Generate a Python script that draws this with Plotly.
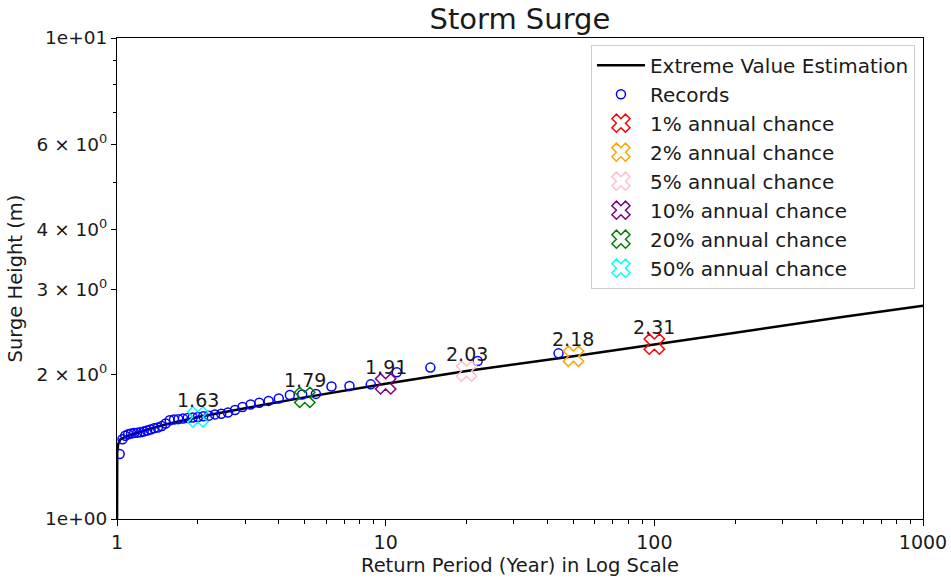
import math
import plotly.graph_objects as go

# Extreme value estimation curve (return period in years, surge height in m)
curve_period = [1.0, 1.002, 1.01, 1.03, 1.1, 1.2, 1.5, 2, 3, 5, 10, 20, 50, 100, 200, 500, 1000]
curve_height = [0.9, 1.38, 1.43, 1.465, 1.49, 1.515, 1.57, 1.63, 1.70, 1.79, 1.91, 2.03, 2.18, 2.31, 2.44, 2.63, 2.777]

# Observed annual maxima with their plotting-position return periods
record_period = [44.0, 22.0, 14.67, 11.0, 8.8, 7.333, 6.286, 5.5, 4.889, 4.4,
                 4.0, 3.667, 3.385, 3.143, 2.933, 2.75, 2.588, 2.444, 2.316, 2.2,
                 2.095, 2.0, 1.913, 1.833, 1.76, 1.692, 1.63, 1.571, 1.517, 1.467,
                 1.419, 1.375, 1.333, 1.294, 1.257, 1.222, 1.189, 1.158, 1.128, 1.1,
                 1.073, 1.048, 1.023]
record_height = [2.21, 2.13, 2.064, 2.018, 1.905, 1.89, 1.885, 1.82, 1.815, 1.81,
                 1.78, 1.76, 1.745, 1.73, 1.71, 1.685, 1.665, 1.655, 1.65, 1.64,
                 1.635, 1.63, 1.625, 1.622, 1.617, 1.613, 1.61, 1.605, 1.58, 1.56,
                 1.55, 1.545, 1.535, 1.527, 1.52, 1.515, 1.512, 1.51, 1.505, 1.50,
                 1.49, 1.465, 1.365]

# Design return levels
chance_labels = ["1% annual chance", "2% annual chance", "5% annual chance",
                 "10% annual chance", "20% annual chance", "50% annual chance"]
chance_period = [100, 50, 20, 10, 5, 2]
chance_height = [2.31, 2.18, 2.03, 1.91, 1.79, 1.63]
chance_colors = ["red", "orange", "pink", "purple", "green", "cyan"]

y_tickvals = [1, 2, 3, 4, 6, 10]
y_ticktext = ["1e+00", "2 × 10<sup>0</sup>", "3 × 10<sup>0</sup>",
              "4 × 10<sup>0</sup>", "6 × 10<sup>0</sup>", "1e+01"]
x_tickvals = [1, 10, 100, 1000]
x_ticktext = ["1", "10", "100", "1000"]
x_minor = [2, 3, 4, 5, 6, 7, 8, 9, 20, 30, 40, 50, 60, 70, 80, 90,
           200, 300, 400, 500, 600, 700, 800, 900]
y_minor = [5, 7, 8, 9]

FONT = "DejaVu Sans"
TXT = "#1a1a1a"

fig = go.Figure()

fig.add_trace(go.Scatter(
    x=curve_period, y=curve_height, mode="lines",
    name="Extreme Value Estimation",
    line=dict(color="black", width=2.5),
))

fig.add_trace(go.Scatter(
    x=record_period, y=record_height, mode="markers",
    name="Records",
    marker=dict(symbol="circle-open", size=9, color="blue", line=dict(width=1.5)),
))

for lab, t, h, c in zip(chance_labels, chance_period, chance_height, chance_colors):
    fig.add_trace(go.Scatter(
        x=[t], y=[h], mode="markers", name=lab,
        marker=dict(symbol="x-open", size=18, color=c, line=dict(width=1.5)),
    ))
    # annotation coordinates on log axes are given in log10 units
    fig.add_annotation(
        x=math.log10(t), y=math.log10(h), xref="x", yref="y", text=f"{h:.2f}",
        showarrow=False, xanchor="center", yanchor="middle", yshift=17,
        font=dict(family=FONT, size=19, color=TXT),
    )

fig.update_layout(
    width=951, height=579,
    margin=dict(l=117, r=28, t=38, b=60, autoexpand=False),
    paper_bgcolor="white", plot_bgcolor="white",
    font=dict(family=FONT, color=TXT),
    title=dict(text="Storm Surge", x=0.5467, xanchor="center", y=0.968, yanchor="middle",
               font=dict(family=FONT, size=29, color=TXT)),
    legend=dict(
        x=0.99, y=0.986, xanchor="right", yanchor="top",
        bgcolor="rgba(255,255,255,0.85)", bordercolor="#cccccc", borderwidth=1,
        font=dict(family=FONT, size=20, color=TXT),
        itemsizing="trace", itemwidth=48,
    ),
    showlegend=True,
)

fig.update_xaxes(
    type="log", range=[0, 3], automargin=False,
    tickmode="array", tickvals=x_tickvals, ticktext=x_ticktext,
    ticks="outside", ticklen=6, tickwidth=1, tickcolor="black",
    minor=dict(tickvals=x_minor, ticks="outside", ticklen=3.5, tickwidth=1, tickcolor="black"),
    showgrid=False, zeroline=False,
    showline=True, linecolor="black", linewidth=1, mirror=True,
    tickfont=dict(family=FONT, size=19, color=TXT),
    title=dict(text="Return Period (Year) in Log Scale", standoff=6,
               font=dict(family=FONT, size=19.5, color=TXT)),
)
fig.update_yaxes(
    type="log", range=[0, 1], automargin=False,
    tickmode="array", tickvals=y_tickvals, ticktext=y_ticktext,
    ticks="outside", ticklen=5, tickwidth=1, tickcolor="black",
    minor=dict(tickvals=y_minor, ticks="outside", ticklen=3.5, tickwidth=1, tickcolor="black"),
    showgrid=False, zeroline=False,
    showline=True, linecolor="black", linewidth=1, mirror=True,
    tickfont=dict(family=FONT, size=18.5, color=TXT),
    title=dict(text="Surge Height (m)", standoff=8,
               font=dict(family=FONT, size=19.5, color=TXT)),
)

fig.write_html("out.html")
